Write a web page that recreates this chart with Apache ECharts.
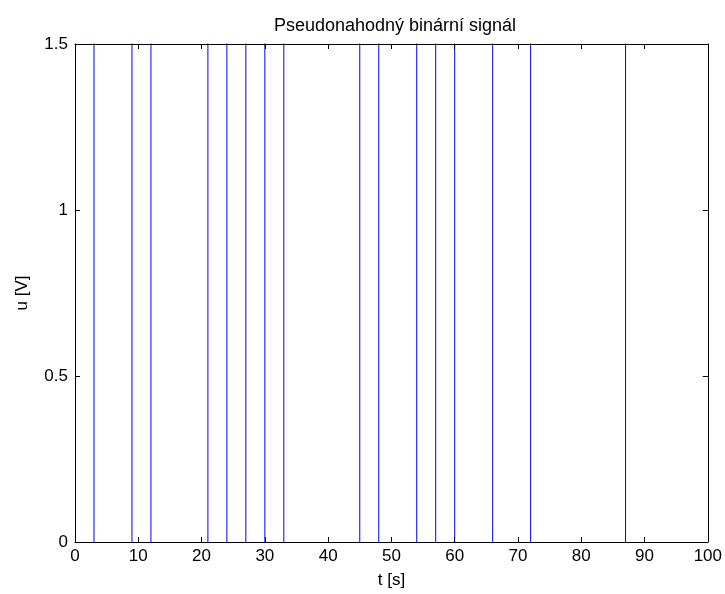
<!DOCTYPE html>
<html>
<head>
<meta charset="utf-8">
<script src="https://cdn.jsdelivr.net/npm/echarts@6/dist/echarts.min.js"></script>
<style>
  html, body { margin: 0; padding: 0; background: #fff; }
  #chart { width: 725px; height: 594px; }
</style>
</head>
<body>
<div id="chart"></div>
<script>
// switching instants of the PRBS signal [s]
const switchTimes = [3, 9, 12, 21, 24, 27, 30, 33, 45, 48, 54, 57, 60, 66, 72, 87]
// signal levels (both lie outside the visible range, only the edges show)
const lowLevel = -1
const highLevel = 2
const tEnd = 100
const xTicks = [0, 10, 20, 30, 40, 50, 60, 70, 80, 90, 100]
const yTicks = [0, 0.5, 1, 1.5]

// build the step signal: level changes at every switch time
const signal = [[0, lowLevel]]
let level = lowLevel
switchTimes.forEach(t => {
  level = level === lowLevel ? highLevel : lowLevel
  signal.push([t, level])
})
signal.push([tEnd, level])

const font = 'Liberation Sans, Arial, sans-serif'
const axisCommon = {
  axisLine: { show: true, onZero: false, lineStyle: { color: '#000', width: 1 } },
  axisTick: { show: true, inside: true, length: 5, lineStyle: { color: '#000', width: 1 } },
  splitLine: { show: false },
  z: 5
}

const chart = echarts.init(document.getElementById('chart'))
chart.setOption({
  animation: false,
  backgroundColor: '#fff',
  title: {
    text: 'Pseudonahodný binární signál', left: 390, top: 12, textAlign: 'center',
    textStyle: { fontFamily: font, fontSize: 18, fontWeight: 'normal', color: '#000' }
  },
  grid: { left: 75, right: 17, top: 44, bottom: 51 },
  xAxis: [
    {
      ...axisCommon, type: 'value', min: 0, max: 100, interval: 10, position: 'bottom',
      name: 't [s]', nameLocation: 'middle', nameGap: 30,
      nameTextStyle: { fontFamily: font, fontSize: 17, color: '#000' },
      axisLabel: { fontFamily: font, fontSize: 17, color: '#000', margin: 6,
        formatter: v => xTicks.includes(v) ? String(v) : '' }
    },
    {
      ...axisCommon, type: 'value', min: 0, max: 100, interval: 10, position: 'top',
      axisLabel: { show: false }
    }
  ],
  yAxis: [
    {
      ...axisCommon, type: 'value', min: 0, max: 1.5, interval: 0.5, position: 'left',
      name: 'u [V]', nameLocation: 'middle', nameGap: 44, nameRotate: 90,
      nameTextStyle: { fontFamily: font, fontSize: 17, color: '#000' },
      axisLabel: { fontFamily: font, fontSize: 17, color: '#000', margin: 7,
        formatter: v => yTicks.includes(v) ? String(v) : '' }
    },
    {
      ...axisCommon, type: 'value', min: 0, max: 1.5, interval: 0.5, position: 'right',
      axisLabel: { show: false }
    }
  ],
  series: [{
    type: 'line', data: signal, step: 'end', xAxisIndex: 0, yAxisIndex: 0,
    showSymbol: false, clip: true, z: 2,
    lineStyle: { color: '#0000ff', width: 1 }
  }]
})
</script>
</body>
</html>
